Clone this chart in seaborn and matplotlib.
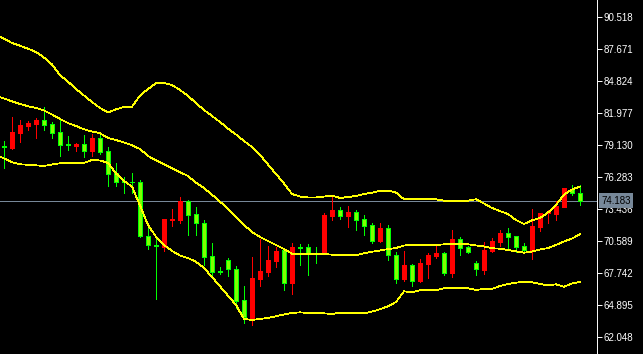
import numpy as np
import pandas as pd
import seaborn as sns
import matplotlib
matplotlib.use("Agg")
import matplotlib.pyplot as plt
import matplotlib.transforms as mtransforms

# ---------------- data ----------------
opens = [79.04, 78.86, 80.25, 80.85, 81.03, 81.38, 81.03, 80.31, 79.27, 79.09,
         79.22, 78.65, 79.78, 78.62, 76.64, 75.93, 75.89, 75.84, 71.09, 70.23,
         70.06, 72.51, 72.51, 74.15, 73.02, 72.19, 69.25, 67.92, 68.92, 68.12,
         65.34, 63.79, 67.23, 67.86, 68.84, 69.81, 66.91, 70.08, 70.06, 69.55,
         69.49, 72.87, 73.37, 72.87, 73.20, 72.55, 72.01, 70.64, 71.75, 69.34,
         67.23, 68.45, 67.06, 68.60, 69.31, 69.55, 67.79, 70.79, 70.06, 68.63,
         68.06, 69.75, 70.53, 71.30, 71.06, 70.17, 69.81, 71.86, 73.15, 73.04,
         73.67, 75.22, 74.89]
highs = [79.51, 81.62, 81.38, 81.27, 81.56, 82.54, 81.20, 81.47, 79.96, 79.33,
         80.02, 80.16, 80.11, 78.98, 77.53, 76.28, 76.64, 76.02, 71.95, 71.00,
         72.57, 73.46, 74.53, 74.26, 73.64, 72.48, 70.41, 68.28, 69.13, 68.39,
         66.61, 69.19, 70.82, 70.17, 70.11, 69.97, 70.41, 70.32, 70.32, 70.08,
         73.08, 74.50, 73.61, 73.73, 73.37, 72.93, 72.22, 72.22, 72.04, 69.61,
         69.73, 68.54, 69.01, 69.55, 70.35, 69.64, 71.59, 70.94, 70.14, 68.84,
         70.50, 70.88, 71.59, 71.75, 71.06, 70.41, 73.44, 73.13, 73.37, 74.15,
         75.33, 75.60, 75.62]
lows = [77.07, 78.80, 79.45, 80.49, 79.81, 80.49, 79.81, 78.18, 78.71, 78.62,
        78.12, 78.18, 78.33, 75.54, 75.54, 74.91, 74.91, 71.00, 69.93, 65.48,
        69.75, 71.98, 72.24, 71.18, 71.18, 68.48, 67.59, 67.68, 67.50, 64.63,
        63.32, 63.14, 66.64, 67.50, 68.33, 66.26, 65.90, 68.48, 67.59, 68.63,
        69.49, 72.48, 72.60, 71.89, 71.59, 71.15, 70.41, 70.55, 68.92, 66.91,
        67.08, 66.64, 66.97, 67.35, 69.13, 67.62, 67.44, 69.37, 69.55, 67.62,
        67.68, 69.66, 70.20, 69.90, 69.61, 69.61, 68.99, 71.50, 72.22, 72.48,
        73.61, 74.71, 73.82]
closes = [78.98, 80.31, 80.94, 81.11, 81.41, 80.94, 80.25, 79.16, 79.16, 79.27,
          78.65, 79.81, 78.56, 76.60, 75.89, 75.86, 75.84, 71.09, 70.23, 70.17,
          72.57, 72.57, 74.15, 72.96, 72.19, 69.22, 67.88, 67.86, 68.10, 65.30,
          63.83, 67.32, 67.95, 68.92, 69.73, 66.91, 70.06, 70.02, 69.49, 69.49,
          72.93, 73.37, 72.87, 73.20, 72.51, 71.98, 70.64, 71.75, 69.34, 67.26,
          68.45, 67.08, 68.63, 69.37, 69.55, 67.79, 70.79, 70.02, 69.66, 68.10,
          69.81, 70.62, 71.30, 71.00, 70.11, 69.81, 71.95, 73.13, 73.20, 73.73,
          75.33, 74.86, 74.183]

# Bollinger bands (first value belongs to the bar just left of the visible window)
band_upper = [88.94, 88.61, 88.23, 87.99, 87.72, 87.43, 86.94, 86.32, 85.38, 84.79,
              84.14, 83.56, 82.98, 82.45, 82.05, 82.33, 82.54, 82.56, 83.56, 84.14,
              84.65, 84.67, 84.49, 84.05, 83.52, 82.89, 82.27, 81.74, 81.20, 80.62,
              80.09, 79.51, 78.98, 78.27, 77.42, 76.58, 75.73, 74.80, 74.57, 74.49,
              74.49, 74.57, 74.66, 74.44, 74.53, 74.62, 74.80, 74.91, 75.09, 75.09,
              74.93, 74.33, 74.33, 74.33, 74.33, 74.33, 74.20, 74.20, 74.20, 74.20,
              74.33, 73.95, 73.55, 73.28, 73.02, 72.48, 72.13, 72.46, 72.66, 73.15,
              73.82, 74.75, 75.20, 75.46]
band_middle = [83.52, 83.29, 83.04, 82.80, 82.61, 82.45, 82.23, 81.87, 81.47, 81.11,
               80.85, 80.55, 80.36, 80.20, 79.78, 79.60, 79.38, 79.13, 78.80, 78.18,
               77.80, 77.45, 77.09, 76.74, 76.40, 75.80, 75.33, 74.73, 74.11, 73.49,
               72.78, 72.04, 71.42, 70.97, 70.62, 70.26, 69.90, 69.49, 69.46, 69.46,
               69.46, 69.46, 69.40, 69.34, 69.34, 69.34, 69.52, 69.66, 69.77, 69.90,
               69.99, 70.22, 70.26, 70.26, 70.26, 70.26, 70.32, 70.32, 70.32, 70.32,
               70.22, 70.13, 69.97, 69.93, 69.81, 69.70, 69.57, 69.68, 69.86, 69.99,
               70.26, 70.57, 70.84, 71.21]
band_lower = [78.27, 77.96, 77.62, 77.44, 77.40, 77.35, 77.29, 77.42, 77.53, 77.53,
              77.53, 77.56, 77.82, 77.78, 77.56, 76.62, 75.95, 75.46, 73.77, 72.04,
              71.00, 70.26, 69.73, 69.32, 69.10, 68.77, 68.21, 67.41, 66.58, 65.75,
              64.92, 63.68, 63.59, 63.68, 63.78, 63.92, 64.08, 64.21, 64.27, 64.21,
              64.18, 64.18, 64.12, 64.24, 64.18, 64.18, 64.18, 64.34, 64.54, 64.81,
              65.19, 66.14, 66.05, 66.23, 66.23, 66.23, 66.41, 66.41, 66.41, 66.41,
              66.26, 66.35, 66.35, 66.61, 66.79, 66.91, 66.99, 66.94, 66.79, 66.66,
              66.76, 66.55, 66.83, 66.99]

price_ticks = [62.048, 64.895, 67.742, 70.589, 73.436, 76.283, 79.130,
               81.977, 84.824, 87.671, 90.518]
bid_price = 74.183

# ---------------- style ----------------
sns.set_style("dark", {"axes.facecolor": "black", "figure.facecolor": "black"})
plt.rcParams["font.family"] = ["Liberation Sans", "DejaVu Sans"]

W, H = 643, 354
plot_w = 597
fig = plt.figure(figsize=(W / 100, H / 100), dpi=100, facecolor="black")
ax = fig.add_axes([0, 0, plot_w / W, 1])
ax.set_facecolor("black")
ax.grid(False)

n = len(opens)
idx = np.arange(n)
idx_b = np.arange(-1, n)

LW = 0.7   # ~1 pixel
BLW = 0.55  # thin band lines

# bands via seaborn
bands = pd.DataFrame({"i": idx_b, "upper": band_upper,
                      "middle": band_middle, "lower": band_lower})
for col in ["upper", "middle", "lower"]:
    sns.lineplot(data=bands, x="i", y=col, ax=ax, color="#FFFF00",
                 linewidth=BLW, legend=False, zorder=4, antialiased=False)

# bid line
ax.axhline(bid_price, color="#778899", linewidth=BLW, zorder=1,
           antialiased=False)

# candles
o = np.array(opens); c = np.array(closes)
hi = np.array(highs); lo = np.array(lows)
up = c >= o
wick_col = np.where(up, "#FF0000", "#00FF00")
ax.vlines(idx, lo, hi, colors=wick_col, linewidth=LW, zorder=2,
          antialiased=False)
body_bottom = np.minimum(o, c)
body_h = np.abs(c - o)
fill = np.where(up, "#FF0000", "#7FFF00")
edge = np.where(up, "#FF0000", "#00FF00")
ax.bar(idx, body_h, bottom=body_bottom, width=0.6, color=fill,
       edgecolor=edge, linewidth=LW, zorder=3, antialiased=False)

# axes limits
ax.set_xlim(-0.5, -0.5 + plot_w / 8)
ax.set_ylim(60.562, 92.057)
ax.set_xticks([])
ax.set_xlabel("")
ax.set_ylabel("")

ax.yaxis.tick_right()
ax.set_yticks(price_ticks)
ax.set_yticklabels([f"{v:.3f}" for v in price_ticks])
ax.tick_params(axis="y", colors="white", labelcolor="white", length=3.5,
               width=LW, pad=1.5, labelsize=7, direction="out", right=True,
               left=False)
for side in ["left", "top", "bottom"]:
    ax.spines[side].set_visible(False)
ax.spines["right"].set_visible(True)
ax.spines["right"].set_color("white")
ax.spines["right"].set_linewidth(LW)

# bid label
trans = mtransforms.blended_transform_factory(ax.transAxes, ax.transData)
ax.text(1.0 + 4 / plot_w, bid_price, f"{bid_price:.3f}", transform=trans,
        ha="left", va="center", fontsize=7, color="black",
        bbox=dict(boxstyle="square,pad=0.25", fc="#778899", ec="none"),
        clip_on=False, zorder=10)

fig.savefig("out.png", dpi=100, facecolor="black")
